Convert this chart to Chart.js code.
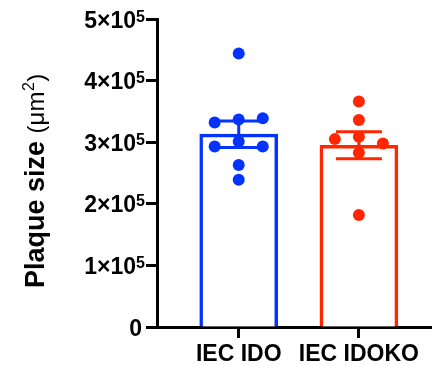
<!DOCTYPE html>
<html>
<head>
<meta charset="utf-8">
<script src="https://cdn.jsdelivr.net/npm/chart.js@4"></script>
<style>
  body { margin: 0; background: #fff; }
</style>
</head>
<body>
<canvas id="myChart" width="437" height="366"></canvas>
<script>
/* Data */
const categories = ['IEC IDO', 'IEC IDOKO'];
const idoValues = [4.44e5, 3.37e5, 3.32e5, 3.39e5, 3.01e5, 2.93e5, 2.93e5, 2.63e5, 2.39e5];
const idokoValues = [3.66e5, 3.36e5, 3.09e5, 3.05e5, 2.98e5, 2.83e5, 1.82e5];
const means = [3.13e5, 2.95e5];
const sems = [0.215e5, 0.22e5];
const yTicks = [0, 1e5, 2e5, 3e5, 4e5, 5e5];
const groupColors = ['#0433FF', '#FF2600'];

const FONT = '"Liberation Sans", Arial, sans-serif';

/* simple beeswarm: push a dot sideways when it sits on top of another */
function swarm(values, center) {
  var placed = [];
  var xStep = 0.2, yGap = 0.2e5;
  return values.map(function (v) {
    var cols = [0, -1, 1, -2, 2];
    for (var k = 0; k < cols.length; k++) {
      var x = center + cols[k] * xStep;
      var hit = placed.some(function (p) { return p.x === x && Math.abs(p.y - v) < yGap; });
      if (!hit) { placed.push({ x: x, y: v }); return { x: x, y: v }; }
    }
    return { x: center, y: v };
  });
}

/* error bars (mean +/- SEM), drawn right after the bars */
const errorBars = {
  id: 'errorBars',
  afterDatasetDraw(chart, args) {
    if (args.index !== 0) return;
    const ctx = chart.ctx, xs = chart.scales.x, ys = chart.scales.y;
    ctx.save();
    ctx.lineWidth = 3;
    means.forEach(function (m, i) {
      const cx = xs.getPixelForValue(i + 1);
      const top = ys.getPixelForValue(m + sems[i]);
      const bot = ys.getPixelForValue(m - sems[i]);
      ctx.strokeStyle = groupColors[i];
      ctx.beginPath();
      ctx.moveTo(cx, top); ctx.lineTo(cx, bot);
      ctx.moveTo(cx - 23, top); ctx.lineTo(cx + 23, top);
      ctx.moveTo(cx - 23, bot); ctx.lineTo(cx + 23, bot);
      ctx.stroke();
    });
    ctx.restore();
  }
};

/* y tick labels with superscript exponents, and the mixed-weight axis title */
const yText = {
  id: 'yText',
  afterDraw(chart) {
    const ctx = chart.ctx, ys = chart.scales.y;
    ctx.save();
    ctx.fillStyle = '#000';
    ctx.textBaseline = 'alphabetic';
    yTicks.forEach(function (t) {
      const y = ys.getPixelForValue(t);
      if (t === 0) {
        ctx.font = 'bold 23px ' + FONT;
        ctx.textAlign = 'right';
        ctx.fillText('0', 142, y + 8.5);
        return;
      }
      const exp = Math.floor(Math.log10(t) + 1e-9);
      const mant = Math.round(t / Math.pow(10, exp));
      ctx.font = 'bold 16px ' + FONT;
      const supW = ctx.measureText(String(exp)).width;
      ctx.textAlign = 'left';
      ctx.fillText(String(exp), 145 - supW, y + 2.5);
      ctx.font = 'bold 23px ' + FONT;
      ctx.textAlign = 'right';
      ctx.fillText(mant + '\u00d710', 145 - supW, y + 8.5);
    });

    // axis title: bold name, light unit with superscript 2
    ctx.translate(44, 288);
    ctx.rotate(-Math.PI / 2);
    ctx.textAlign = 'left';
    ctx.font = 'bold 27px ' + FONT;
    const part1 = 'Plaque size ';
    ctx.fillText(part1, 0, 0);
    let x = ctx.measureText(part1).width;
    ctx.font = '24px ' + FONT;
    ctx.fillText('(\u03bcm', x, 0);
    x += ctx.measureText('(\u03bcm').width;
    ctx.font = '16px ' + FONT;
    ctx.fillText('2', x + 0.5, -10);
    x += ctx.measureText('2').width + 1;
    ctx.font = '24px ' + FONT;
    ctx.fillText(')', x, 0);
    ctx.restore();
  }
};

new Chart('myChart', {
  type: 'bar',
  data: {
    datasets: [{
      type: 'bar',
      data: means.map(function (m, i) { return { x: i + 1, y: m }; }),
      backgroundColor: '#ffffff',
      borderColor: groupColors,
      borderWidth: 3.5,
      barThickness: 78,
      grouped: false,
      order: 2
    }, {
      type: 'scatter',
      data: swarm(idoValues, 1),
      backgroundColor: groupColors[0],
      borderWidth: 0,
      pointRadius: 6,
      order: 0
    }, {
      type: 'scatter',
      data: swarm(idokoValues, 2),
      backgroundColor: groupColors[1],
      borderWidth: 0,
      pointRadius: 6,
      order: 0
    }]
  },
  options: {
    responsive: false,
    animation: false,
    devicePixelRatio: 1,
    layout: { padding: { top: 19, right: 0, bottom: 0, left: 0 } },
    plugins: { legend: { display: false }, tooltip: { enabled: false } },
    scales: {
      x: {
        type: 'linear',
        min: 0.32,
        max: 2.6,
        offset: false,
        afterBuildTicks: function (scale) {
          scale.ticks = categories.map(function (c, i) { return { value: i + 1 }; });
        },
        afterFit: function (scale) { scale.height = 39; },
        ticks: {
          autoSkip: false,
          maxRotation: 0,
          padding: 3,
          color: '#000',
          font: { family: FONT, size: 23, weight: 'bold' },
          callback: function (v, i) { return categories[i]; }
        },
        grid: { display: true, offset: false, drawOnChartArea: false, drawTicks: true, tickLength: 11, tickWidth: 3, tickColor: '#000' },
        border: { display: true, color: '#000', width: 3 }
      },
      y: {
        min: 0,
        max: 5e5,
        afterBuildTicks: function (scale) {
          scale.ticks = yTicks.map(function (t) { return { value: t }; });
        },
        afterFit: function (scale) { scale.width = 157; },
        ticks: { display: false },
        grid: { display: true, drawOnChartArea: false, drawTicks: true, tickLength: 11, tickWidth: 3, tickColor: '#000' },
        border: { display: true, color: '#000', width: 3 }
      }
    }
  },
  plugins: [errorBars, yText]
});
</script>
</body>
</html>
